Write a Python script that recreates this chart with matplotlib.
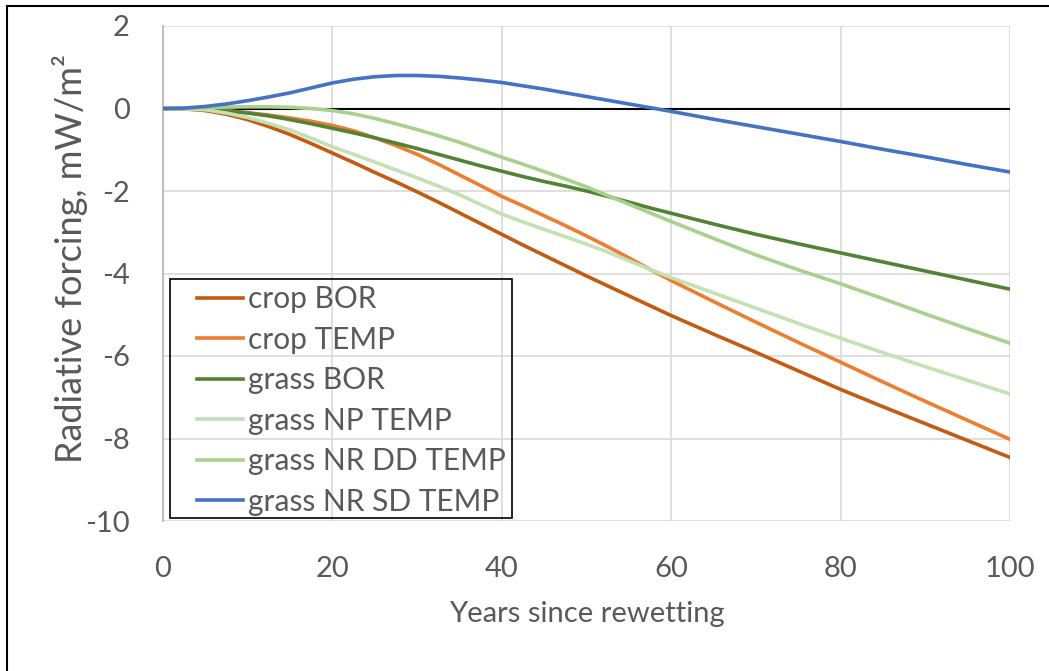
import matplotlib
matplotlib.use("Agg")
import matplotlib.pyplot as plt
from matplotlib.patches import Rectangle

# years since rewetting
years = [0, 2.5, 5, 7.5, 10, 12.5, 15, 17.5, 20, 22.5, 25, 27.5, 30, 32.5, 35, 37.5, 40,
         42.5, 45, 47.5, 50, 52.5, 55, 57.5, 60, 65, 70, 75, 80, 85, 90, 95, 100]

# radiative forcing, mW/m2
crop_bor = [0, -0.01, -0.05, -0.14, -0.27, -0.44, -0.63, -0.85, -1.08, -1.31, -1.55, -1.78,
            -2.02, -2.27, -2.53, -2.79, -3.05, -3.31, -3.56, -3.81, -4.06, -4.30, -4.54,
            -4.78, -5.02, -5.47, -5.91, -6.36, -6.81, -7.23, -7.64, -8.05, -8.46]
crop_temp = [0, -0.005, -0.02, -0.05, -0.10, -0.16, -0.23, -0.31, -0.41, -0.54, -0.71, -0.90,
             -1.11, -1.35, -1.61, -1.87, -2.13, -2.36, -2.60, -2.84, -3.09, -3.35, -3.62,
             -3.90, -4.17, -4.68, -5.18, -5.67, -6.15, -6.63, -7.10, -7.56, -8.02]
grass_bor = [0, -0.005, -0.02, -0.06, -0.11, -0.18, -0.27, -0.37, -0.48, -0.59, -0.71, -0.84,
             -0.97, -1.11, -1.25, -1.39, -1.52, -1.65, -1.77, -1.88, -2.00, -2.13, -2.27,
             -2.41, -2.54, -2.80, -3.05, -3.28, -3.50, -3.72, -3.94, -4.16, -4.38]
grass_np_temp = [0, -0.01, -0.03, -0.11, -0.22, -0.36, -0.52, -0.72, -0.93, -1.11, -1.30,
                 -1.49, -1.68, -1.88, -2.09, -2.33, -2.56, -2.75, -2.93, -3.11, -3.29, -3.48,
                 -3.69, -3.90, -4.10, -4.47, -4.84, -5.21, -5.57, -5.92, -6.26, -6.59, -6.92]
grass_nr_dd_temp = [0, 0.005, 0.02, 0.035, 0.04, 0.04, 0.03, 0.0, -0.05, -0.13, -0.24, -0.37,
                    -0.51, -0.66, -0.82, -1.00, -1.18, -1.35, -1.53, -1.71, -1.90, -2.11,
                    -2.32, -2.53, -2.74, -3.15, -3.55, -3.91, -4.25, -4.61, -4.98, -5.34, -5.69]
grass_nr_sd_temp = [0, 0.01, 0.05, 0.11, 0.19, 0.28, 0.38, 0.50, 0.62, 0.71, 0.77, 0.80,
                    0.80, 0.78, 0.74, 0.69, 0.63, 0.55, 0.47, 0.38, 0.29, 0.20, 0.11, 0.02,
                    -0.07, -0.26, -0.44, -0.62, -0.80, -0.99, -1.17, -1.36, -1.54]

series = [
    ("crop BOR", crop_bor, "#C55A11"),
    ("crop TEMP", crop_temp, "#ED7D31"),
    ("grass BOR", grass_bor, "#548235"),
    ("grass NP TEMP", grass_np_temp, "#C5E0B4"),
    ("grass NR DD TEMP", grass_nr_dd_temp, "#A9D18E"),
    ("grass NR SD TEMP", grass_nr_sd_temp, "#4472C4"),
]

plt.rcParams["font.family"] = ["Lato", "DejaVu Sans"]
plt.rcParams["axes.unicode_minus"] = False
txt = "#595959"
W, H = 1049, 671

fig = plt.figure(figsize=(W / 100, H / 100), dpi=100)
ax = fig.add_axes([163 / W, 1 - 521 / H, (1010 - 163) / W, (521 - 26) / H])

ax.axhline(0, color="black", lw=1.5, zorder=2)
for name, vals, col in series:
    ax.plot(years, vals, color=col, lw=2.6, label=name, zorder=3)

ax.set_xlim(0, 100)
ax.set_ylim(-10, 2)
ax.set_xticks(range(0, 101, 20))
ax.set_yticks(range(-10, 3, 2))
ax.grid(True, color="#D9D9D9", lw=1.2, zorder=0)
for s in ["top", "right", "bottom"]:
    ax.spines[s].set_visible(False)
ax.spines["left"].set_color("#BFBFBF")
ax.spines["left"].set_linewidth(1.5)
ax.tick_params(length=0, labelsize=21, colors=txt)
ax.tick_params(axis="y", pad=24)
ax.tick_params(axis="x", pad=25)

ax.set_xlabel("Years since rewetting", fontsize=21, color=txt, labelpad=14)
ax.set_ylabel("Radiative forcing, mW/m²", fontsize=26, color=txt)
ax.yaxis.set_label_coords(-0.088, 0.531)

# legend without its own frame; box drawn separately to match the original
leg = ax.legend(loc="upper left", bbox_to_anchor=(197 / W, 1 - 285 / H),
                bbox_transform=fig.transFigure, fontsize=21.5, frameon=False,
                borderaxespad=0, borderpad=0, handlelength=1.55,
                handletextpad=0.15, labelspacing=0.42)
for t in leg.get_texts():
    t.set_color(txt)
fig.patches.append(Rectangle((170 / W, 1 - 518 / H), (512 - 170) / W, (518 - 279) / H,
                             transform=fig.transFigure, fill=False,
                             edgecolor="black", lw=1.2, zorder=5))

# thin border round the chart area
fig.patches.append(Rectangle((7 / W, -0.1), 1.2, 1 - 6 / H + 0.1,
                             transform=fig.transFigure, fill=False,
                             edgecolor="black", lw=1.5))

fig.savefig("out.png", dpi=100)
